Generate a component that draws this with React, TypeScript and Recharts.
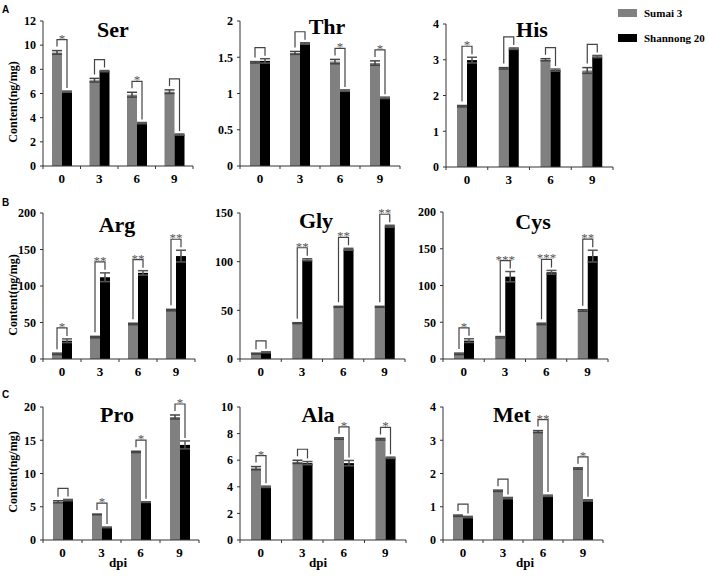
import React from 'react';
import { BarChart, Bar, XAxis, YAxis, ErrorBar } from 'recharts';

const dpi = ['0', '3', '6', '9'];

const serSumai = [9.4, 7.1, 5.9, 6.15];
const serShannong = [6.15, 7.85, 3.55, 2.6];
const serSumaiErr = [0.15, 0.15, 0.2, 0.15];
const serShannongErr = [0.05, 0.05, 0.05, 0.05];
const serSig = ['*', '', '*', ''];

const thrSumai = [1.43, 1.56, 1.44, 1.42];
const thrShannong = [1.45, 1.69, 1.04, 0.94];
const thrSumaiErr = [0.01, 0.02, 0.03, 0.03];
const thrShannongErr = [0.03, 0.01, 0.01, 0.01];
const thrSig = ['', '', '*', '*'];

const hisSumai = [1.7, 2.76, 3.0, 2.7];
const hisShannong = [2.99, 3.31, 2.71, 3.09];
const hisSumaiErr = [0.02, 0.02, 0.03, 0.08];
const hisShannongErr = [0.08, 0.02, 0.03, 0.03];
const hisSig = ['*', '', '', ''];

const argSumai = [7, 30, 48, 67];
const argShannong = [25, 112, 118, 141];
const argSumaiErr = [1, 1, 1, 1];
const argShannongErr = [2.5, 6, 3, 8];
const argSig = ['*', '**', '**', '**'];

const glySumai = [5.5, 36.8, 53.6, 53.6];
const glyShannong = [6.9, 102, 112.7, 136.4];
const glySumaiErr = [0.5, 0.5, 0.5, 0.5];
const glyShannongErr = [0.5, 1, 1, 1];
const glySig = ['', '**', '**', '**'];

const cysSumai = [7, 29.5, 47.7, 66];
const cysShannong = [25, 112, 118, 140];
const cysSumaiErr = [1, 1, 1, 1];
const cysShannongErr = [2.5, 7, 2.5, 8];
const cysSig = ['*', '***', '***', '**'];

const proSumai = [5.75, 3.85, 13.25, 18.5];
const proShannong = [6.0, 1.9, 5.7, 14.3];
const proSumaiErr = [0.15, 0.05, 0.1, 0.3];
const proShannongErr = [0.1, 0.05, 0.05, 0.6];
const proSig = ['', '*', '*', '*'];

const alaSumai = [5.4, 5.875, 7.63, 7.58];
const alaShannong = [4.0, 5.78, 5.78, 6.18];
const alaSumaiErr = [0.12, 0.12, 0.05, 0.06];
const alaShannongErr = [0.05, 0.12, 0.2, 0.05];
const alaSig = ['*', '', '*', '*'];

const metSumai = [0.73, 1.48, 3.26, 2.15];
const metShannong = [0.69, 1.26, 1.33, 1.19];
const metSumaiErr = [0.02, 0.02, 0.03, 0.02];
const metShannongErr = [0.02, 0.02, 0.02, 0.02];
const metSig = ['', '', '**', '*'];

const FONT = '"Liberation Serif", "Times New Roman", Times, serif';

const panels = [
  { name: 'Ser', sumai: serSumai, shannong: serShannong, se: serSumaiErr, ne: serShannongErr, sig: serSig, max: 12, ticks: [0, 2, 4, 6, 8, 10, 12], x0: 43, x1: 193, y0: 21, y1: 166, tx: 113, ty: 30 },
  { name: 'Thr', sumai: thrSumai, shannong: thrShannong, se: thrSumaiErr, ne: thrShannongErr, sig: thrSig, max: 2, ticks: [0, 0.5, 1, 1.5, 2], x0: 240, x1: 400, y0: 21, y1: 166, tx: 327, ty: 27 },
  { name: 'His', sumai: hisSumai, shannong: hisShannong, se: hisSumaiErr, ne: hisShannongErr, sig: hisSig, max: 4, ticks: [0, 1, 2, 3, 4], x0: 446, x1: 613, y0: 24, y1: 167, tx: 532, ty: 30 },
  { name: 'Arg', sumai: argSumai, shannong: argShannong, se: argSumaiErr, ne: argShannongErr, sig: argSig, max: 200, ticks: [0, 50, 100, 150, 200], x0: 43, x1: 195, y0: 213, y1: 359, tx: 117, ty: 225 },
  { name: 'Gly', sumai: glySumai, shannong: glyShannong, se: glySumaiErr, ne: glyShannongErr, sig: glySig, max: 150, ticks: [0, 50, 100, 150], x0: 240, x1: 405, y0: 213, y1: 359, tx: 316, ty: 221 },
  { name: 'Cys', sumai: cysSumai, shannong: cysShannong, se: cysSumaiErr, ne: cysShannongErr, sig: cysSig, max: 200, ticks: [0, 50, 100, 150, 200], x0: 443, x1: 608, y0: 212, y1: 359, tx: 533, ty: 222 },
  { name: 'Pro', sumai: proSumai, shannong: proShannong, se: proSumaiErr, ne: proShannongErr, sig: proSig, max: 20, ticks: [0, 5, 10, 15, 20], x0: 43, x1: 199, y0: 407, y1: 540, tx: 117, ty: 415 },
  { name: 'Ala', sumai: alaSumai, shannong: alaShannong, se: alaSumaiErr, ne: alaShannongErr, sig: alaSig, max: 10, ticks: [0, 2, 4, 6, 8, 10], x0: 240, x1: 406, y0: 407, y1: 540, tx: 318, ty: 415 },
  { name: 'Met', sumai: metSumai, shannong: metShannong, se: metSumaiErr, ne: metShannongErr, sig: metSig, max: 4, ticks: [0, 1, 2, 3, 4], x0: 443, x1: 603, y0: 407, y1: 540, tx: 512, ty: 415 },
];

const ML = 40;
const MT = 25;
const MR = 10;
const MB = 25;

const XTick = (props: any) => {
  const { x, y, payload, index, band } = props;
  return (
    <g>
      <line x1={x - band / 2} x2={x - band / 2} y1={y} y2={y + 3} stroke="#333" />
      {index === 3 && <line x1={x + band / 2} x2={x + band / 2} y1={y} y2={y + 3} stroke="#333" />}
      <text x={x} y={y + 17} textAnchor="middle" fontFamily={FONT} fontWeight="bold" fontSize={13} fill="#000">
        {payload.value}
      </text>
    </g>
  );
};

// black bar + significance bracket between the pair
const PairShape = (p: any) => {
  const { x, y, width, height, payload } = p;
  const base = y + height;
  const k = height / payload.shannong;
  const sTop = base - payload.sumai * k - payload.se * k;
  const nTop = y - payload.ne * k;
  const top = Math.min(sTop, nTop) - 11;
  const lx = x - width / 2;
  const rx = x + width / 2;
  return (
    <g>
      <rect x={x} y={y} width={width} height={height} fill="#000" />
      <path d={`M${lx},${sTop - 4}V${top}H${rx}V${nTop - 3}`} stroke="#444" strokeWidth={1.2} fill="none" />
      {payload.sig && (
        <text x={(lx + rx) / 2} y={top + 3} textAnchor="middle" fontFamily={FONT} fontSize={13} fill="#555">
          {payload.sig}
        </text>
      )}
    </g>
  );
};

const Panel = ({ cfg }: { cfg: any }) => {
  const pw = cfg.x1 - cfg.x0;
  const ph = cfg.y1 - cfg.y0;
  const data = dpi.map((d, i) => ({
    dpi: d,
    sumai: cfg.sumai[i],
    shannong: cfg.shannong[i],
    se: cfg.se[i],
    ne: cfg.ne[i],
    sig: cfg.sig[i],
  }));
  return (
    <>
      <div style={{ position: 'absolute', left: cfg.x0 - ML, top: cfg.y0 - MT }}>
        <BarChart width={pw + ML + MR} height={ph + MT + MB} data={data} margin={{ top: MT, right: MR, left: 0, bottom: 0 }} barSize={10} barGap={0}>
          <XAxis
            dataKey="dpi"
            height={MB}
            interval={0}
            tickSize={0}
            tickMargin={0}
            tickLine={false}
            axisLine={{ stroke: '#333' }}
            tick={(t: any) => <XTick {...t} band={pw / 4} />}
          />
          <YAxis
            width={ML}
            domain={[0, cfg.max]}
            ticks={cfg.ticks}
            interval={0}
            tickSize={3}
            tickMargin={4}
            axisLine={{ stroke: '#333' }}
            tickLine={{ stroke: '#333' }}
            tick={{ fontFamily: FONT, fontWeight: 'bold', fontSize: 12, fill: '#000' }}
          />
          <Bar dataKey="sumai" fill="#808080" isAnimationActive={false}>
            <ErrorBar dataKey="se" width={5} stroke="#444" />
          </Bar>
          <Bar dataKey="shannong" fill="#000" isAnimationActive={false} shape={PairShape}>
            <ErrorBar dataKey="ne" width={5} stroke="#555" />
          </Bar>
        </BarChart>
      </div>
      <div
        style={{
          position: 'absolute',
          left: cfg.tx,
          top: cfg.ty - 7,
          transform: 'translateX(-50%)',
          fontFamily: FONT,
          fontWeight: 'bold',
          fontSize: 22,
          lineHeight: '14px',
          whiteSpace: 'nowrap',
        }}
      >
        {cfg.name}
      </div>
    </>
  );
};

const textStyle: React.CSSProperties = {
  position: 'absolute',
  fontFamily: FONT,
  fontWeight: 'bold',
  whiteSpace: 'nowrap',
};

const yLabelRows = [102, 295, 472];
const dpiCols = [118, 318, 525];
const letters = [
  { t: 'A', y: 10 },
  { t: 'B', y: 203 },
  { t: 'C', y: 395 },
];

export default function App() {
  return (
    <div style={{ position: 'absolute', left: 0, top: 0, width: 708, height: 576, background: '#fff', overflow: 'hidden' }}>
      {panels.map((p) => (
        <Panel key={p.name} cfg={p} />
      ))}
      {letters.map((l) => (
        <div key={l.t} style={{ position: 'absolute', left: 2, top: l.y - 6, fontFamily: 'Arial, "Liberation Sans", sans-serif', fontWeight: 'bold', fontSize: 10 }}>
          {l.t}
        </div>
      ))}
      {yLabelRows.map((cy, i) => (
        <div
          key={i}
          style={{
            ...textStyle,
            fontSize: 12,
            left: 12.5 - 50,
            width: 100,
            textAlign: 'center',
            top: cy - 8,
            lineHeight: '16px',
            transform: 'rotate(-90deg)',
          }}
        >
          Content(ng/mg)
        </div>
      ))}
      {dpiCols.map((cx, i) => (
        <div key={i} style={{ ...textStyle, fontSize: 13, left: cx - 20, width: 40, textAlign: 'center', top: 555, lineHeight: '16px' }}>
          dpi
        </div>
      ))}
      <div style={{ position: 'absolute', left: 618, top: 9, width: 19, height: 8, background: '#808080' }} />
      <div style={{ ...textStyle, fontSize: 11, left: 644, top: 6, lineHeight: '14px' }}>Sumai 3</div>
      <div style={{ position: 'absolute', left: 618, top: 34, width: 19, height: 8, background: '#000' }} />
      <div style={{ ...textStyle, fontSize: 11, left: 644, top: 31, lineHeight: '14px' }}>Shannong 20</div>
    </div>
  );
}
